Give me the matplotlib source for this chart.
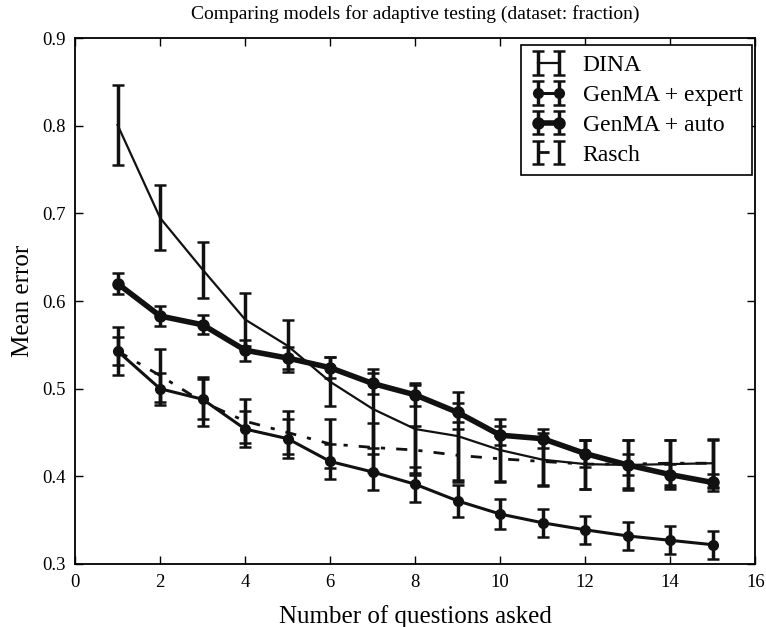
import matplotlib
matplotlib.use("Agg")
from matplotlib import pyplot as plt

questions = list(range(1, 16))

dina = [0.801, 0.695, 0.636, 0.579, 0.549, 0.508, 0.477, 0.454, 0.446, 0.430, 0.419, 0.414, 0.413, 0.414, 0.415]
dina_err = [0.046, 0.037, 0.032, 0.030, 0.030, 0.028, 0.045, 0.050, 0.050, 0.035, 0.030, 0.028, 0.028, 0.028, 0.028]

expert = [0.543, 0.500, 0.488, 0.454, 0.443, 0.417, 0.405, 0.391, 0.372, 0.357, 0.347, 0.339, 0.332, 0.327, 0.322]
expert_err = [0.027, 0.018, 0.023, 0.021, 0.022, 0.020, 0.020, 0.020, 0.018, 0.017, 0.016, 0.016, 0.016, 0.016, 0.016]

auto = [0.620, 0.583, 0.573, 0.544, 0.535, 0.524, 0.506, 0.493, 0.473, 0.447, 0.443, 0.426, 0.413, 0.402, 0.393]
auto_err = [0.012, 0.011, 0.011, 0.012, 0.013, 0.012, 0.012, 0.013, 0.011, 0.011, 0.011, 0.015, 0.012, 0.012, 0.010]

rasch = [0.543, 0.515, 0.485, 0.463, 0.450, 0.437, 0.433, 0.430, 0.424, 0.420, 0.417, 0.414, 0.414, 0.415, 0.415]
rasch_err = [0.016, 0.030, 0.028, 0.025, 0.025, 0.028, 0.028, 0.028, 0.030, 0.026, 0.027, 0.028, 0.027, 0.027, 0.027]

plt.rcParams['font.family'] = ['Liberation Serif', 'DejaVu Serif']
plt.rcParams['xtick.direction'] = 'in'
plt.rcParams['ytick.direction'] = 'in'

fig = plt.figure(figsize=(7.66, 6.27), dpi=100)
ax = fig.add_axes([0.098, 0.1005, 0.888, 0.8385])

ink = '#111111'
ax.errorbar(questions, dina, yerr=dina_err, color=ink, lw=1.6, elinewidth=2.5,
            capsize=4.5, capthick=1.8, label='DINA')
ax.errorbar(questions, expert, yerr=expert_err, color=ink, lw=2.2, elinewidth=2.5,
            capsize=4.5, capthick=1.8, marker='o', markersize=7, label='GenMA + expert')
ax.errorbar(questions, auto, yerr=auto_err, color=ink, lw=4, elinewidth=2.5,
            capsize=4.5, capthick=1.8, marker='o', markersize=8, label='GenMA + auto')
ax.errorbar(questions, rasch, yerr=rasch_err, color=ink, lw=2.0, ls=(0, (4, 4, 1.5, 4)),
            elinewidth=2.5, capsize=4.5, capthick=1.8, label='Rasch')

ax.set_xlim(0, 16)
ax.set_ylim(0.3, 0.9)
ax.set_xticks(range(0, 17, 2))
ax.set_yticks([0.3, 0.4, 0.5, 0.6, 0.7, 0.8, 0.9])
ax.tick_params(top=True, right=True, labelsize=13.5, length=6, width=1, pad=7)
for s in ax.spines.values():
    s.set_linewidth(1.3)

ax.set_title('Comparing models for adaptive testing (dataset: fraction)', fontsize=14, pad=14)
ax.set_xlabel('Number of questions asked', fontsize=18, labelpad=10)
ax.set_ylabel('Mean error', fontsize=18, labelpad=6)

leg = ax.legend(loc='upper right', bbox_to_anchor=(0.9956, 0.9867), borderaxespad=0,
                fontsize=17, fancybox=False, numpoints=2, handlelength=1.5,
                handletextpad=0.7, borderpad=0.4, labelspacing=0.35, framealpha=1)
leg.get_frame().set_edgecolor('k')
leg.get_frame().set_linewidth(1.2)

fig.savefig('out.png', dpi=100)
